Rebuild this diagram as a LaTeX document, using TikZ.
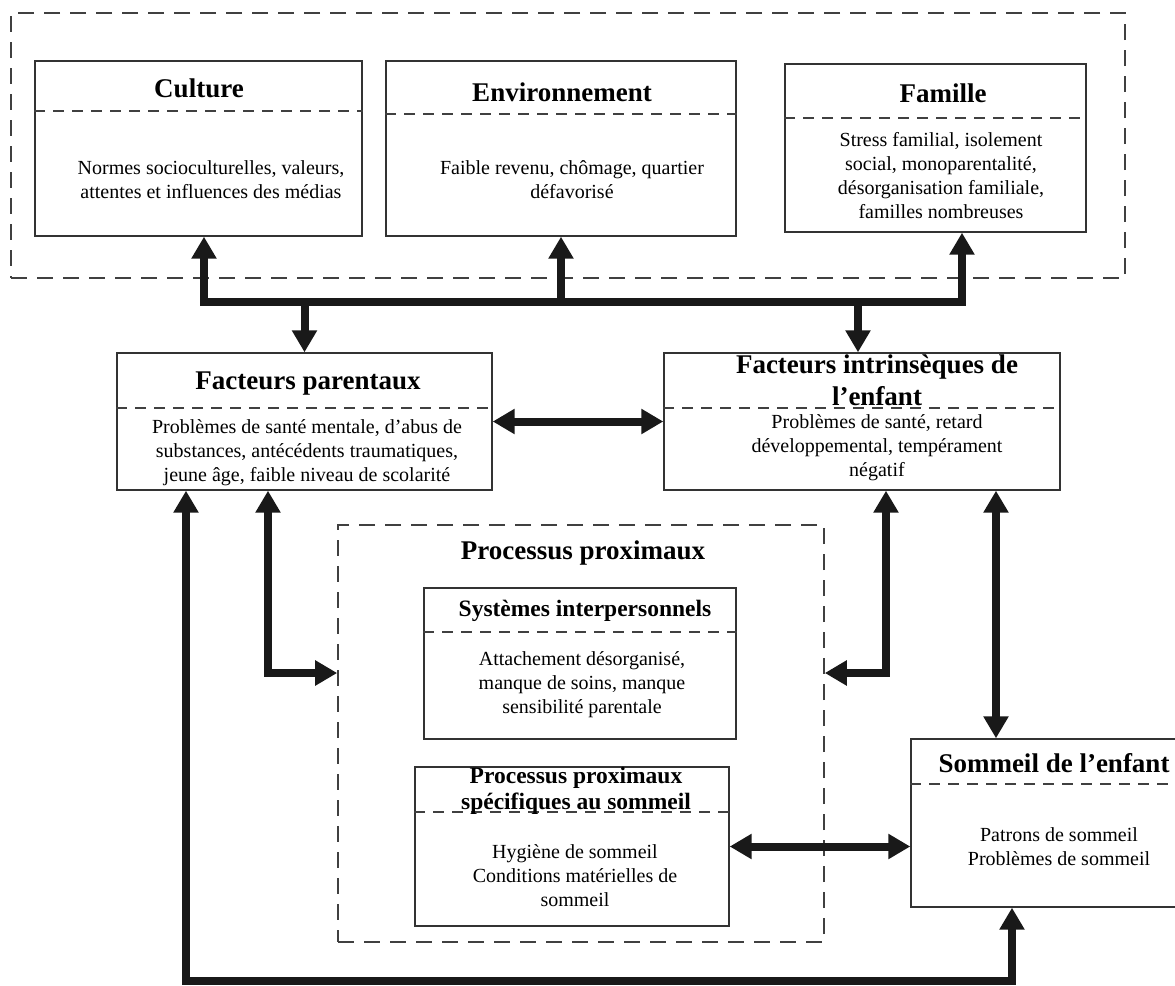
\documentclass[tikz,border=0pt]{standalone}
\usepackage{fontspec}
\setmainfont{Liberation Serif}
\usetikzlibrary{arrows.meta,fit}

\begin{document}
\begin{tikzpicture}[
    x=0.5pt, y=-0.5pt,
    box/.style={draw=black!80, line width=0.7pt, inner sep=0pt},
    zone/.style={draw=black!75, line width=0.8pt, dash pattern=on 8pt off 5pt, inner sep=0pt},
    divider/.style={draw=black!75, line width=0.75pt, dash pattern=on 5.5pt off 4pt},
    title/.style={font=\fontsize{13.5}{16}\selectfont\bfseries, align=center, inner sep=0pt},
    subtitle/.style={font=\fontsize{11.75}{13}\selectfont\bfseries, align=center, inner sep=0pt},
    body/.style={font=\fontsize{10}{12}\selectfont, align=center, inner sep=0pt},
    flow/.style={draw=black!90, line width=4pt},
    arr/.style={flow, -{Triangle[width=12pt,length=11pt]}},
    dbl/.style={flow, {Triangle[width=12pt,length=11pt]}-{Triangle[width=12pt,length=11pt]}}
]
    \useasboundingbox (0,0) rectangle (1175,986);

    % Context zone
    \node[zone, fit={(11,13) (1125,278)}] (context) {};

    \node[box, fit={(35,61) (362,236)}] (culture) {};
    \draw[divider] (culture.west |- 0,111) -- (culture.east |- 0,111);
    \node[title] (cultureT) at (199,88) {Culture};
    \node[body] (cultureB) at (211,180) {Normes socioculturelles, valeurs,\\attentes et influences des médias};

    \node[box, fit={(386,61) (736,236)}] (env) {};
    \draw[divider] (env.west |- 0,114) -- (env.east |- 0,114);
    \node[title] (envT) at (562,92) {Environnement};
    \node[body] (envB) at (572,180) {Faible revenu, chômage, quartier\\défavorisé};

    \node[box, fit={(785,64) (1086,232)}] (famille) {};
    \draw[divider] (famille.west |- 0,118) -- (famille.east |- 0,118);
    \node[title] (familleT) at (943,93) {Famille};
    \node[body] (familleB) at (941,176) {Stress familial, isolement\\social, monoparentalité,\\désorganisation familiale,\\familles nombreuses};

    % Parent and child factors
    \node[box, fit={(117,353) (492,490)}] (parental) {};
    \draw[divider] (parental.west |- 0,408) -- (parental.east |- 0,408);
    \node[title] (parentalT) at (308,384) {Facteurs parentaux};
    \node[body] (parentalB) at (307,453) {Problèmes de santé mentale, d’abus de\\substances, antécédents traumatiques,\\jeune âge, faible niveau de scolarité};

    \node[box, fit={(664,353) (1060,490)}] (intr) {};
    \draw[divider] (intr.west |- 0,408) -- (intr.east |- 0,408);
    \node[title] (intrT) at (877,380) {Facteurs intrinsèques de\\l’enfant};
    \node[body] (intrB) at (877,448) {Problèmes de santé, retard\\développemental, tempérament\\négatif};

    % Proximal processes
    \node[zone, fit={(338,525) (824,942)}] (proximal) {};
    \node[title] (proximalT) at (583,553) {Processus proximaux};

    \node[box, fit={(424,588) (736,739)}] (syst) {};
    \draw[divider] (syst.west |- 0,632) -- (syst.east |- 0,632);
    \node[subtitle] (systT) at (585,611) {Systèmes interpersonnels};
    \node[body] (systB) at (582,685) {Attachement désorganisé,\\manque de soins, manque\\sensibilité parentale};

    \node[box, fit={(415,767) (729,926)}] (spec) {};
    \draw[divider] (spec.west |- 0,812) -- (spec.east |- 0,812);
    \node[subtitle] (specT) at (576,791) {Processus proximaux\\spécifiques au sommeil};
    \node[body] (specB) at (575,876) {Hygiène de sommeil\\Conditions matérielles de\\sommeil};

    % Child sleep
    \node[box, fit={(911,739) (1190,907)}] (sommeil) {};
    \draw[divider] (sommeil.west |- 0,784) -- (sommeil.east |- 0,784);
    \node[title] (sommeilT) at (1054,763) {Sommeil de l’enfant};
    \node[body] (sommeilB) at (1059,847) {Patrons de sommeil\\Problèmes de sommeil};

    % Connectors
    \coordinate (busL) at (204,302);
    \coordinate (busR) at (962,302);
    \coordinate (busI) at (858,302);
    \draw[flow, line cap=rect] (busL) -- (busR);
    \draw[arr] (busL) -- (busL |- culture.south);
    \draw[arr] (env.south |- busL) -- (env.south);
    \draw[arr] (busR) -- (busR |- famille.south);
    \draw[arr] (parental.north |- busL) -- (parental.north);
    \draw[arr] (busI) -- (busI |- intr.north);

    \draw[dbl] (parental.east) -- (intr.west);

    \coordinate (loopL) at (186,981);
    \coordinate (loopR) at (1012,981);
    \draw[dbl] (loopL |- parental.south) -- (loopL) -- (loopR) -- (loopR |- sommeil.south);

    \coordinate (bendP) at (268,673);
    \draw[dbl] (bendP |- parental.south) -- (bendP) -- (bendP -| proximal.west);
    \coordinate (bendI) at (886,673);
    \draw[dbl] (bendI |- intr.south) -- (bendI) -- (bendI -| proximal.east);

    \coordinate (linkS) at (996,600);
    \draw[dbl] (linkS |- intr.south) -- (linkS |- sommeil.north);
    \draw[dbl] (spec.east) -- (spec.east -| sommeil.west);
\end{tikzpicture}
\end{document}
